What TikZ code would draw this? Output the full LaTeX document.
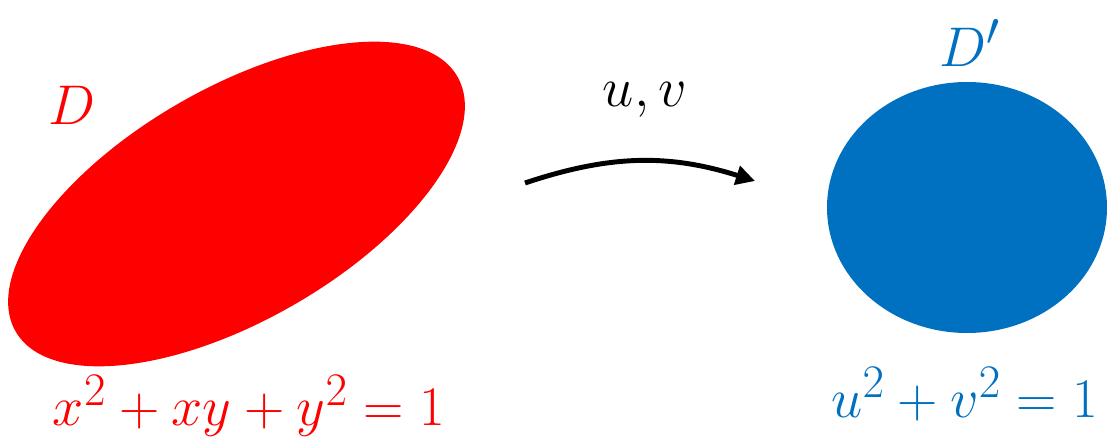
\documentclass[tikz,border=0pt]{standalone}
\usepackage{amsmath}
\usepackage{graphicx}
\usepackage{tikz}
\usetikzlibrary{arrows.meta,shapes.geometric}
\definecolor{regred}{RGB}{255,0,0}
\definecolor{regblue}{RGB}{0,112,192}
\newcommand{\biglbl}[1]{\scalebox{1.28}{\Huge #1}}
\tikzset{
  region/.style={ellipse, draw=none, inner sep=0pt},
  lbl/.style={inner sep=0pt},
  maparr/.style={-{Triangle[length=3.8mm,width=3.8mm]}, line width=2.8pt, draw=black}
}
\begin{document}
\begin{tikzpicture}
  \useasboundingbox (0,0) rectangle (22.14,8.86);
  \node[region, fill=regred, minimum width=10.2cm, minimum height=4.64cm, rotate=30] (dom) at (4.73,4.78) {};
  \node[region, fill=regblue, minimum width=5.6cm, minimum height=5.02cm] (img) at (19.34,4.71) {};

  \node[lbl, text=regred] (dlbl) at (1.44,6.76) {\biglbl{$D$}};
  \node[lbl, text=regblue] (dplbl) at (19.4,8.0) {\biglbl{$D'$}};
  \node[lbl] (uvlbl) at (12.9,6.86) {\biglbl{$u,v$}};
  \node[lbl, text=regred] (eqx) at (4.98,0.74) {\biglbl{$x^2+xy+y^2=1$}};
  \node[lbl, text=regblue] (equ) at (19.3,0.98) {\biglbl{$u^2+v^2=1$}};

  \coordinate (mapfrom) at (10.5,5.2);
  \coordinate (mapto) at (15.1,5.24);
  \draw[maparr] (mapfrom) to[bend left=18] (mapto);
\end{tikzpicture}
\end{document}
